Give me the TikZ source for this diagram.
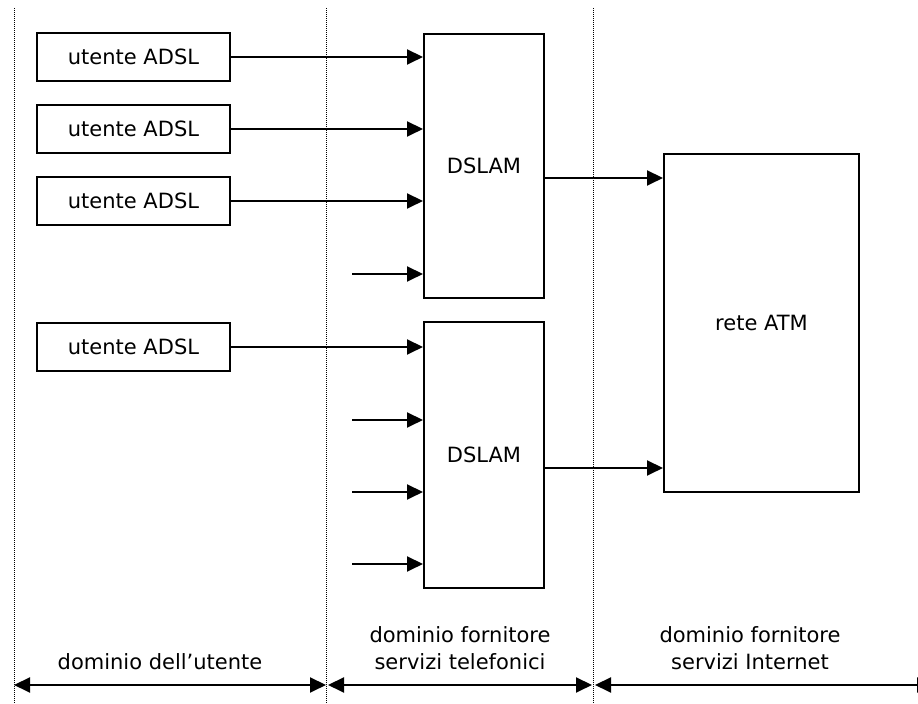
\documentclass[tikz,border=0pt]{standalone}
\usepackage{fontspec}
\setmainfont{DejaVu Sans}
\usetikzlibrary{arrows.meta}
\tikzset{
  box/.style={draw, line width=1pt, inner sep=0pt, font=\fontsize{10.5}{13.5}\selectfont},
  conn/.style={line width=1pt, -{Triangle[length=8pt,width=7.5pt]}},
  dbl/.style={line width=1pt, {Triangle[length=8pt,width=7.5pt]}-{Triangle[length=8pt,width=7.5pt]}},
  sep/.style={line width=0.5pt, dash pattern=on 0.5pt off 0.5pt},
  lbl/.style={align=center, inner sep=0pt, font=\fontsize{10.5}{13.5}\selectfont}
}
\begin{document}
\begin{tikzpicture}[x=0.5pt,y=-0.5pt]
\useasboundingbox (0,0) rectangle (918,704);
\clip (0,0) rectangle (918,704);
% separators
\coordinate (s1t) at (14,8);   \coordinate (s1b) at (14,704);
\coordinate (s2t) at (326,8);  \coordinate (s2b) at (326,704);
\coordinate (s3t) at (593,8);  \coordinate (s3b) at (593,704);
\draw[sep] (s1t) -- (s1b);
\draw[sep] (s2t) -- (s2b);
\draw[sep] (s3t) -- (s3b);
% user boxes
\node[box, minimum width=96.5pt, minimum height=24pt] (u1) at (133.5,57) {utente ADSL};
\node[box, minimum width=96.5pt, minimum height=24pt] (u2) at (133.5,129) {utente ADSL};
\node[box, minimum width=96.5pt, minimum height=24pt] (u3) at (133.5,201) {utente ADSL};
\node[box, minimum width=96.5pt, minimum height=24pt] (u4) at (133.5,347) {utente ADSL};
% DSLAMs
\node[box, minimum width=60pt, minimum height=132pt] (d1) at (484,166) {DSLAM};
\node[box, minimum width=60pt, minimum height=133pt] (d2) at (484,455) {DSLAM};
% ATM
\node[box, minimum width=97.5pt, minimum height=169pt] (atm) at (761.5,323) {rete ATM};
% user arrows
\draw[conn] (u1.east) -- (d1.west |- u1.east);
\draw[conn] (u2.east) -- (d1.west |- u2.east);
\draw[conn] (u3.east) -- (d1.west |- u3.east);
\draw[conn] (u4.east) -- (d2.west |- u4.east);
% short inputs
\coordinate (i1) at (352,274);
\coordinate (i2) at (352,420);
\coordinate (i3) at (352,492);
\coordinate (i4) at (352,564);
\draw[conn] (i1) -- (d1.west |- i1);
\draw[conn] (i2) -- (d2.west |- i2);
\draw[conn] (i3) -- (d2.west |- i3);
\draw[conn] (i4) -- (d2.west |- i4);
% DSLAM outputs
\coordinate (o1) at (544,178);
\coordinate (o2) at (544,468);
\draw[conn] (d1.east |- o1) -- (atm.west |- o1);
\draw[conn] (d2.east |- o2) -- (atm.west |- o2);
% domain arrows
\coordinate (a1) at (14,685);
\coordinate (a2) at (326,685);
\coordinate (a3) at (328,685);
\coordinate (a4) at (592,685);
\coordinate (a5) at (595,685);
\coordinate (a6) at (933,685);
\draw[dbl] (a1) -- (a2);
\draw[dbl] (a3) -- (a4);
\draw[dbl] (a5) -- (a6);
% labels
\node[lbl] (l1) at (160,662) {dominio dell’utente};
\node[lbl] (l2) at (460,648.5) {dominio fornitore\\servizi telefonici};
\node[lbl] (l3) at (750,648.5) {dominio fornitore\\servizi Internet};
\end{tikzpicture}
\end{document}
